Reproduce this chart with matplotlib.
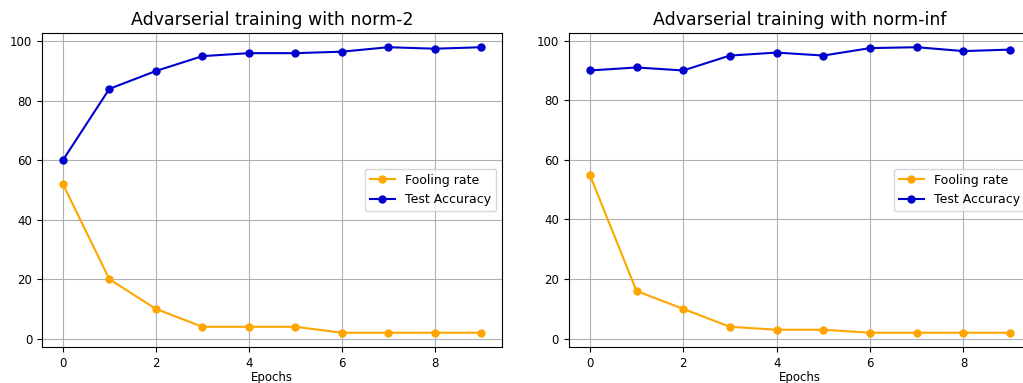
import matplotlib
matplotlib.use("Agg")
import matplotlib.pyplot as plt

epochs = list(range(10))

fool_l2 = [52, 20, 10, 4, 4, 4, 2, 2, 2, 2]
acc_l2 = [60, 84, 90, 95, 96, 96, 96.5, 98, 97.5, 98]

fool_inf = [55, 16, 10, 4, 3, 3, 2, 2, 2, 2]
acc_inf = [90, 91, 90, 95, 96, 95, 97.5, 97.8, 96.5, 97]

titles = ["Advarserial training with norm-2", "Advarserial training with norm-inf"]

fig = plt.figure(figsize=(10.23, 3.83), dpi=100)
ax1 = fig.add_axes([0.041, 0.094, 0.45, 0.82])
ax2 = fig.add_axes([0.556, 0.094, 0.452, 0.82])

for ax, fool, acc, title in [(ax1, fool_l2, acc_l2, titles[0]),
                             (ax2, fool_inf, acc_inf, titles[1])]:
    ax.plot(epochs, fool, color="orange", marker="o", markersize=5, lw=1.5, label="Fooling rate")
    ax.plot(epochs, acc, color="mediumblue", marker="o", markersize=5, lw=1.5, label="Test Accuracy")
    ax.set_title(title, fontsize=12.5)
    ax.set_xlabel("Epochs", fontsize=8.5, labelpad=1)
    ax.set_xticks([0, 2, 4, 6, 8])
    ax.tick_params(labelsize=8.5)
    ax.grid(True, color="#b0b0b0")
    ax.legend(loc="center right", fontsize=9)

fig.savefig("out.png", dpi=100)
